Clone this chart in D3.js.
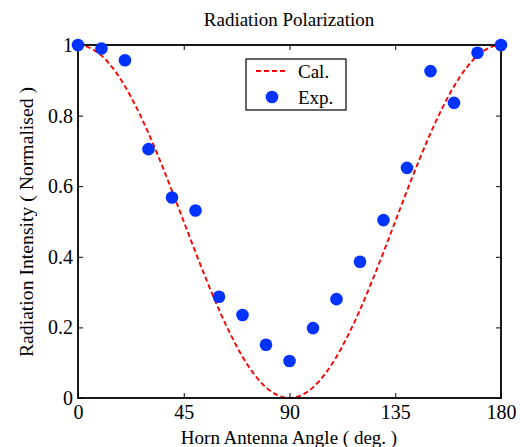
<!DOCTYPE html>
<html>
<head>
<meta charset="utf-8">
<script src="https://cdn.jsdelivr.net/npm/d3@7"></script>
<style>
html,body{margin:0;padding:0;background:#fff;}
svg{display:block;font-family:"Liberation Serif","Times New Roman",serif;}
</style>
</head>
<body>
<div id="chart"></div>
<script>
// Data
const calAngles = [0,5,10,15,20,25,30,35,40,45,50,55,60,65,70,75,80,85,90,95,100,105,110,115,120,125,130,135,140,145,150,155,160,165,170,175,180];
const calValues = [1,0.992,0.970,0.933,0.883,0.821,0.75,0.671,0.587,0.5,0.413,0.329,0.25,0.179,0.117,0.067,0.030,0.008,0,0.008,0.030,0.067,0.117,0.179,0.25,0.329,0.413,0.5,0.587,0.671,0.75,0.821,0.883,0.933,0.970,0.992,1];
const expAngles = [0,10,20,30,40,50,60,70,80,90,100,110,120,130,140,150,160,170,180];
const expValues = [1.0,0.99,0.957,0.705,0.568,0.531,0.287,0.235,0.151,0.105,0.198,0.280,0.386,0.504,0.652,0.926,0.836,0.978,1.0];
const xTicks = [0,45,90,135,180];
const yTicks = [0,0.2,0.4,0.6,0.8,1];
const yTickLabels = ["0","0.2","0.4","0.6","0.8","1"];
const legendLabels = ["Cal.","Exp."];

const W = 520, H = 447;
const m = {left:78, right:19, top:45, bottom:49};
const iw = W - m.left - m.right, ih = H - m.top - m.bottom;

const svg = d3.select("#chart").append("svg").attr("width",W).attr("height",H);
const g = svg.append("g").attr("transform",`translate(${m.left},${m.top})`);

const x = d3.scaleLinear().domain([0,180]).range([0,iw]);
const y = d3.scaleLinear().domain([0,1]).range([ih,0]);

// Curve
const line = d3.line().x((d,i)=>x(calAngles[i])).y(d=>y(d)).curve(d3.curveMonotoneX);
g.append("path").datum(calValues).attr("d",line)
  .attr("fill","none").attr("stroke","#ff0000").attr("stroke-width",1.9)
  .attr("stroke-dasharray","5,3");

// Axes (box with inward ticks)
const fs = 20;
const ff = "Liberation Serif, Times New Roman, serif";
const xb = g.append("g").attr("transform",`translate(0,${ih})`)
  .call(d3.axisBottom(x).tickValues(xTicks).tickSize(-5).tickPadding(7).tickSizeOuter(0));
const xt = g.append("g")
  .call(d3.axisTop(x).tickValues(xTicks).tickSize(-5).tickFormat("").tickSizeOuter(0));
const yl = g.append("g")
  .call(d3.axisLeft(y).tickValues(yTicks).tickSize(-5).tickPadding(5).tickSizeOuter(0)
  .tickFormat((d,i)=>yTickLabels[i]));
const yr = g.append("g").attr("transform",`translate(${iw},0)`)
  .call(d3.axisRight(y).tickValues(yTicks).tickSize(-5).tickFormat("").tickSizeOuter(0));
[xb,xt,yl,yr].forEach(a=>{
  a.attr("font-family",ff);
  a.select(".domain").remove();
  a.selectAll("line").attr("stroke","#000").attr("stroke-width",1);
  a.selectAll("text").attr("font-family",ff).attr("font-size",fs).attr("fill","#000");
});
xb.selectAll("text").attr("dy","0.71em");
g.append("rect").attr("x",0).attr("y",0).attr("width",iw).attr("height",ih)
  .attr("fill","none").attr("stroke","#000").attr("stroke-width",1.8);

// Points (on top of the frame)
g.selectAll("circle.exp").data(expValues).enter().append("circle")
  .attr("class","exp")
  .attr("cx",(d,i)=>x(expAngles[i])).attr("cy",d=>y(d)).attr("r",6.3)
  .attr("fill","#0033ff");

// Title and labels
svg.append("text").attr("x",289).attr("y",26).attr("text-anchor","middle")
  .attr("font-family",ff).attr("font-size",19).text("Radiation Polarization");
svg.append("text").attr("x",289).attr("y",444).attr("text-anchor","middle")
  .attr("font-family",ff).attr("font-size",19).text("Horn Antenna Angle ( deg. )");
svg.append("text").attr("transform","translate(33,222) rotate(-90)").attr("text-anchor","middle")
  .attr("font-family",ff).attr("font-size",19.7).text("Radiation Intensity ( Normalised )");

// Legend
const lg = svg.append("g").attr("font-family",ff);
lg.append("rect").attr("x",246).attr("y",59).attr("width",100).attr("height",51)
  .attr("fill","#fff").attr("stroke","#000").attr("stroke-width",1.2);
lg.append("line").attr("x1",256).attr("x2",288).attr("y1",71).attr("y2",71)
  .attr("stroke","#ff0000").attr("stroke-width",1.9).attr("stroke-dasharray","5,3");
lg.append("circle").attr("cx",272).attr("cy",97).attr("r",6.3).attr("fill","#0033ff");
lg.append("text").attr("x",298).attr("y",78).attr("font-size",19).text(legendLabels[0]);
lg.append("text").attr("x",298).attr("y",104).attr("font-size",19).text(legendLabels[1]);
</script>
</body>
</html>
